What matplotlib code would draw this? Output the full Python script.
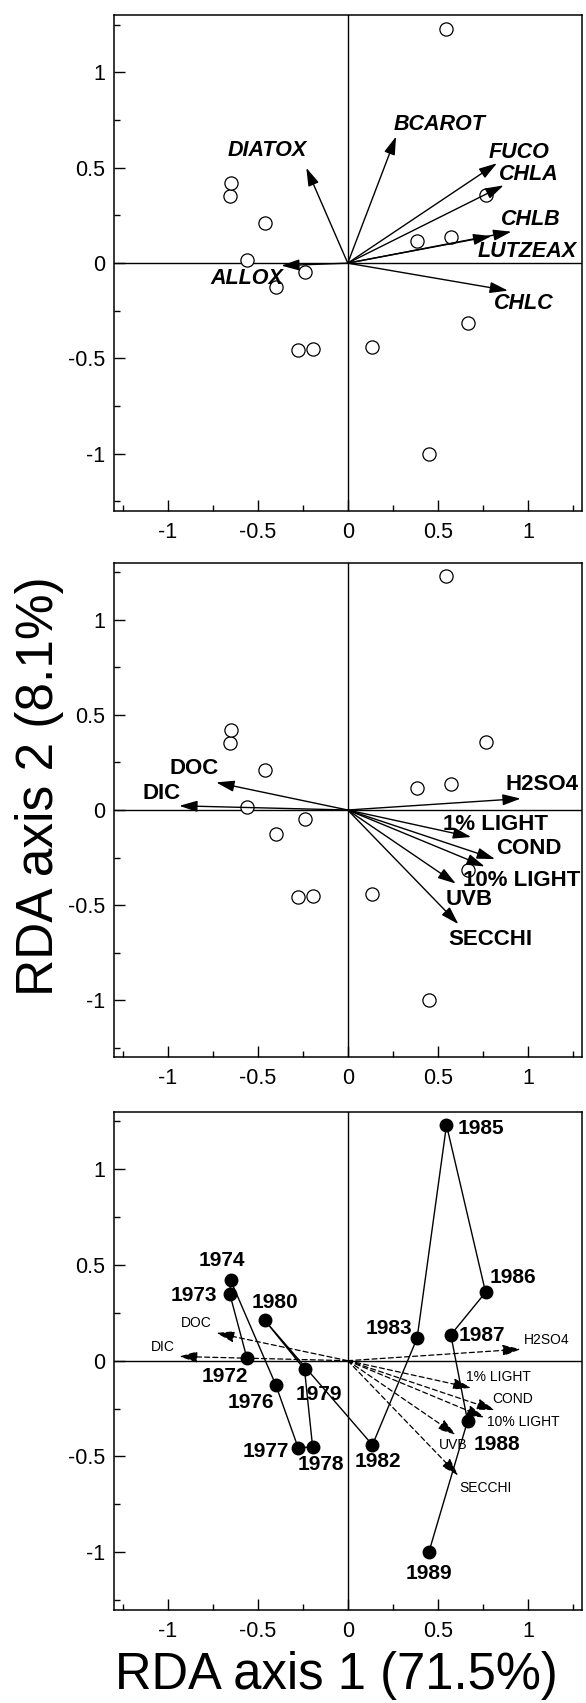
import matplotlib
matplotlib.use("Agg")
import matplotlib.pyplot as plt
from matplotlib.ticker import MultipleLocator, FuncFormatter

plt.rcParams['font.family'] = ['Liberation Sans', 'DejaVu Sans']

# ---- data -----------------------------------------------------------
years = ['1972', '1973', '1974', '1976', '1977', '1978', '1979', '1980',
         '1982', '1983', '1985', '1986', '1987', '1988', '1989']
year_x = [-0.56, -0.655, -0.65, -0.40, -0.275, -0.195, -0.24, -0.46,
          0.137, 0.385, 0.548, 0.765, 0.572, 0.665, 0.45]
year_y = [0.015, 0.35, 0.42, -0.125, -0.455, -0.45, -0.045, 0.21,
          -0.44, 0.118, 1.23, 0.357, 0.135, -0.315, -1.0]

pigments = ['DIATOX', 'BCAROT', 'FUCO', 'CHLA', 'CHLB', 'LUTZEAX', 'CHLC', 'ALLOX']
pigment_x = [-0.23, 0.268, 0.828, 0.865, 0.908, 0.797, 0.889, -0.369]
pigment_y = [0.50, 0.664, 0.524, 0.408, 0.165, 0.142, -0.144, -0.013]

env_vars = ['DOC', 'DIC', 'H2SO4', '1% LIGHT', 'COND', '10% LIGHT', 'UVB', 'SECCHI']
env_x = [-0.73, -0.935, 0.96, 0.685, 0.817, 0.76, 0.60, 0.614]
env_y = [0.145, 0.022, 0.06, -0.142, -0.258, -0.297, -0.387, -0.60]

xlabel = 'RDA axis 1 (71.5%)'
ylabel = 'RDA axis 2 (8.1%)'

# ---- label placement (left edge, vertical centre) ---------------------
pigment_lab = [(-0.666, 0.59), (0.253, 0.726), (0.784, 0.58), (0.838, 0.464),
               (0.849, 0.228), (0.718, 0.062), (0.81, -0.213), (-0.762, -0.079)]
env_lab2 = [(-0.987, 0.216), (-1.138, 0.089), (0.873, 0.136), (0.528, -0.074),
            (0.823, -0.205), (0.639, -0.368), (0.541, -0.473), (0.56, -0.679)]
env_lab3 = [(-0.927, 0.195), (-1.093, 0.071), (0.977, 0.11), (0.654, -0.085),
            (0.802, -0.2), (0.774, -0.32), (0.503, -0.44), (0.617, -0.667)]
year_lab = {'1985': (0.608, 1.213), '1986': (0.787, 0.434), '1987': (0.618, 0.131),
            '1983': (0.098, 0.168), '1974': (-0.829, 0.521), '1973': (-0.982, 0.341),
            '1980': (-0.535, 0.303), '1972': (-0.809, -0.081), '1979': (-0.289, -0.174),
            '1976': (-0.667, -0.220), '1977': (-0.584, -0.476), '1978': (-0.276, -0.542),
            '1982': (0.037, -0.527), '1988': (0.70, -0.438), '1989': (0.323, -1.109)}

# ---- figure ---------------------------------------------------------
W, H = 586, 1703
fig = plt.figure(figsize=(W / 100, H / 100), dpi=100)

left = 113.5 / W
width = 468.5 / W
boxes = [(15.3, 511.0), (562.7, 1057.3), (1111.7, 1609.7)]
axes = []
for top, bot in boxes:
    ax = fig.add_axes([left, 1 - bot / H, width, (bot - top) / H])
    axes.append(ax)


def fmt(v, pos):
    if abs(v) < 1e-9:
        return '0'
    return f'{v:g}'


for ax in axes:
    ax.set_xlim(-1.3, 1.3)
    ax.set_ylim(-1.3, 1.3)
    for a in (ax.xaxis, ax.yaxis):
        a.set_major_locator(MultipleLocator(0.5))
        a.set_minor_locator(MultipleLocator(0.25))
        a.set_major_formatter(FuncFormatter(fmt))
    ax.tick_params(which='both', direction='in', top=False, right=False, width=1)
    ax.tick_params(which='major', length=8, labelsize=15.5, pad=8)
    ax.tick_params(axis='y', which='major', pad=6)
    ax.tick_params(which='minor', length=4)
    for s in ax.spines.values():
        s.set_linewidth(1.1)
    ax.axhline(0, color='black', lw=1)
    ax.axvline(0, color='black', lw=1)

solid_arrow = dict(arrowstyle='-|>,head_length=0.55,head_width=0.17',
                   mutation_scale=20, color='black', lw=1, shrinkA=0, shrinkB=0)
dashed_arrow = dict(solid_arrow, linestyle=(0, (4, 2.5)), lw=0.9)

# panel 1: pigments
ax = axes[0]
ax.plot(year_x, year_y, 'o', ms=9.5, mfc='white', mec='black', mew=0.9, ls='none', zorder=3)
for name, x, y, (lx, ly) in zip(pigments, pigment_x, pigment_y, pigment_lab):
    ax.annotate('', xy=(x, y), xytext=(0, 0), arrowprops=solid_arrow, zorder=4)
    ax.text(lx, ly, name, fontsize=15.5, fontweight='bold', fontstyle='italic',
            ha='left', va='center', zorder=5)

# panel 2: environment
ax = axes[1]
ax.plot(year_x, year_y, 'o', ms=9.5, mfc='white', mec='black', mew=0.9, ls='none', zorder=3)
for name, x, y, (lx, ly) in zip(env_vars, env_x, env_y, env_lab2):
    ax.annotate('', xy=(x, y), xytext=(0, 0), arrowprops=solid_arrow, zorder=4)
    ax.text(lx, ly, name, fontsize=16, fontweight='bold', ha='left', va='center', zorder=5)

# panel 3: trajectory
ax = axes[2]
for name, x, y, (lx, ly) in zip(env_vars, env_x, env_y, env_lab3):
    ax.annotate('', xy=(x, y), xytext=(0, 0), arrowprops=dashed_arrow, zorder=2)
    ax.text(lx, ly, name, fontsize=10, ha='left', va='center', zorder=5)
ax.plot(year_x, year_y, '-', color='black', lw=1, zorder=3)
ax.plot(year_x, year_y, 'o', ms=9, mfc='black', mec='black', ls='none', zorder=4)
for yr in years:
    lx, ly = year_lab[yr]
    ax.text(lx, ly, yr, fontsize=15, fontweight='bold', ha='left', va='center', zorder=5)

fig.text(336 / W, 1 - 1689 / H, xlabel, fontsize=36.5, ha='center', va='baseline')
fig.text(40 / W, 1 - 786 / H, ylabel, fontsize=37, rotation=90, ha='center', va='center')

fig.savefig('out.png', dpi=100)
